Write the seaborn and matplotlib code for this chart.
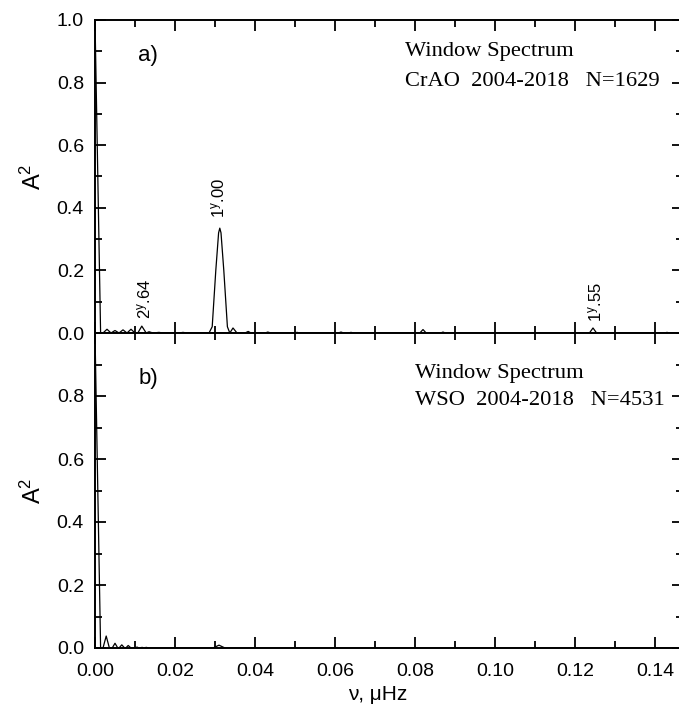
import matplotlib
matplotlib.use("Agg")
import matplotlib.pyplot as plt
import seaborn as sns
import pandas as pd
from matplotlib.ticker import MultipleLocator

sns.set_style("ticks")
plt.rcParams['font.family'] = ['Liberation Sans', 'DejaVu Sans']
plt.rcParams['mathtext.fontset'] = 'custom'
plt.rcParams['mathtext.rm'] = 'Liberation Sans'
plt.rcParams['mathtext.it'] = 'Liberation Sans'
plt.rcParams['mathtext.default'] = 'rm'
for k in ('text.color', 'axes.labelcolor', 'xtick.color', 'ytick.color', 'axes.edgecolor'):
    plt.rcParams[k] = 'black'

# Panel a) CrAO window spectrum
freq_a = [0.0000, 0.0007, 0.0014, 0.0020, 0.0030, 0.0040, 0.0050, 0.0060, 0.0070, 0.0080,
          0.0090, 0.0100, 0.0107, 0.0117, 0.0128, 0.0135, 0.0145, 0.0160, 0.0170, 0.0210,
          0.0220, 0.0230, 0.0285, 0.0293, 0.0302, 0.0309, 0.0312, 0.0315, 0.0322, 0.0331,
          0.0337, 0.0345, 0.0355, 0.0375, 0.0383, 0.0390, 0.0425, 0.0432, 0.0440, 0.0498,
          0.0505, 0.0512, 0.0608, 0.0615, 0.0622, 0.0633, 0.0640, 0.0647, 0.0812, 0.0820,
          0.0828, 0.0864, 0.0870, 0.0876, 0.1236, 0.1245, 0.1254, 0.1424, 0.1430, 0.1436,
          0.1470]
amp_a = [1.000, 0.500, 0.000, 0.000, 0.012, 0.000, 0.008, 0.000, 0.010, 0.000,
         0.012, 0.000, 0.000, 0.022, 0.000, 0.004, 0.000, 0.002, 0.000, 0.000,
         0.002, 0.000, 0.000, 0.020, 0.200, 0.320, 0.335, 0.320, 0.200, 0.020,
         0.000, 0.016, 0.000, 0.000, 0.005, 0.000, 0.000, 0.003, 0.000, 0.000,
         0.002, 0.000, 0.000, 0.003, 0.000, 0.000, 0.002, 0.000, 0.000, 0.011,
         0.000, 0.000, 0.003, 0.000, 0.000, 0.016, 0.000, 0.000, 0.002, 0.000,
         0.000]

# Panel b) WSO window spectrum
freq_b = [0.0000, 0.0007, 0.0014, 0.0020, 0.0028, 0.0036, 0.0043, 0.0050, 0.0057, 0.0060,
          0.0067, 0.0074, 0.0077, 0.0083, 0.0090, 0.0100, 0.0105, 0.0110, 0.0118, 0.0122,
          0.0128, 0.0135, 0.0140, 0.0295, 0.0310, 0.0325, 0.1470]
amp_b = [1.000, 0.500, 0.000, 0.000, 0.038, 0.000, 0.000, 0.015, 0.000, 0.000,
         0.010, 0.000, 0.000, 0.008, 0.000, 0.000, 0.003, 0.000, 0.002, 0.000,
         0.002, 0.000, 0.000, 0.000, 0.009, 0.000, 0.000]

x_ticks = [0.00, 0.02, 0.04, 0.06, 0.08, 0.10, 0.12, 0.14]
x_ticklabels = ["0.00", "0.02", "0.04", "0.06", "0.08", "0.10", "0.12", "0.14"]
y_ticks_a = [0.0, 0.2, 0.4, 0.6, 0.8, 1.0]
y_ticks_b = [0.0, 0.2, 0.4, 0.6, 0.8]

peak_labels = ["2$^{y}$.64", "1$^{y}$.00", "1$^{y}$.55"]
peak_freq = [0.0123, 0.0308, 0.1250]
peak_pos = [0.045, 0.367, 0.035]

text_a = ["Window Spectrum", "CrAO  2004-2018   N=1629"]
text_b = ["Window Spectrum", "WSO  2004-2018   N=4531"]

df_a = pd.DataFrame({"nu": freq_a, "A2": amp_a})
df_b = pd.DataFrame({"nu": freq_b, "A2": amp_b})

W, H = 679, 704
fig = plt.figure(figsize=(W / 100, H / 100), dpi=100)
left = 95 / W
width = 588 / W
ax_a = fig.add_axes([left, (H - 333) / H, width, (333 - 20) / H])
ax_b = fig.add_axes([left, (H - 648) / H, width, (648 - 333) / H])

for ax, df in ((ax_a, df_a), (ax_b, df_b)):
    sns.lineplot(data=df, x="nu", y="A2", ax=ax, color="black", linewidth=0.9, sort=False)
    ax.set_xlim(0, 0.147)
    ax.set_ylim(0, 1.0)
    ax.xaxis.set_minor_locator(MultipleLocator(0.01))
    ax.yaxis.set_minor_locator(MultipleLocator(0.1))
    ax.tick_params(which="both", direction="in", top=True, right=True, width=1.3)
    ax.tick_params(which="major", length=8, labelsize=14)
    ax.tick_params(which="minor", length=5)
    ax.tick_params(axis="y", which="major", pad=8)
    ax.tick_params(axis="x", which="major", pad=11)
    for s in ax.spines.values():
        s.set_linewidth(1.4)
    ax.set_ylabel("A$^{2}$", fontsize=17, labelpad=8)
    ax.set_xticks(x_ticks)

ax_a.set_yticks(y_ticks_a)
ax_a.set_yticklabels([f"{v:.1f}" for v in y_ticks_a])
ax_a.set_xticklabels([])
ax_a.set_xlabel("")
ax_b.set_yticks(y_ticks_b)
ax_b.set_yticklabels([f"{v:.1f}" for v in y_ticks_b])
ax_b.set_xticklabels(x_ticklabels)
ax_b.set_xlabel("ν, μHz", fontsize=15)
ax_b.xaxis.set_label_coords((378 - 95) / 588, -(694 - 648) / 315)
ax_b.xaxis.label.set_va("center")

for lab, fx, fy in zip(peak_labels, peak_freq, peak_pos):
    ax_a.text(fx, fy, lab, rotation=90, ha="center", va="bottom", fontsize=12)

ax_a.text(0.0108, 0.885, "a)", fontsize=16, va="center")
ax_b.text(0.0108, 0.857, "b)", fontsize=16, va="center")

serif = ["Liberation Serif", "DejaVu Serif"]
ax_a.text(0.0775, 0.900, text_a[0], fontsize=16.2, va="center", family=serif)
ax_a.text(0.0775, 0.803, text_a[1], fontsize=16.2, va="center", family=serif)
ax_b.text(0.0800, 0.873, text_b[0], fontsize=16.2, va="center", family=serif)
ax_b.text(0.0800, 0.785, text_b[1], fontsize=16.2, va="center", family=serif)

fig.savefig("out.png", dpi=100)
